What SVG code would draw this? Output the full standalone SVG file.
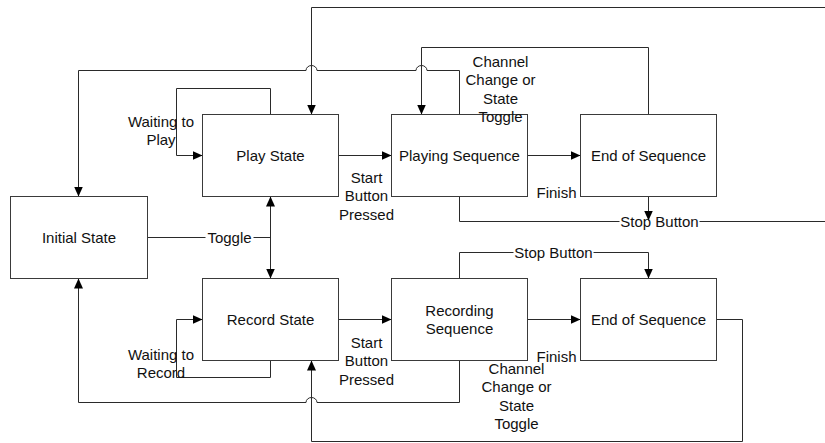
<svg xmlns="http://www.w3.org/2000/svg" width="825" height="443" viewBox="0 0 825 443">
<style>
.box{fill:#fff;stroke:#3a3a3a;stroke-width:1}
.c{fill:none;stroke:#2a2a2a;stroke-width:1}
text{font-family:"Liberation Sans",Arial,sans-serif;font-size:15px;fill:#111;text-anchor:middle}
</style>
<defs>
<marker id="a" viewBox="0 0 10 10" refX="10" refY="5" markerWidth="10" markerHeight="10" orient="auto-start-reverse" markerUnits="userSpaceOnUse">
<path d="M0,0.5 L10,5 L0,9.5 z" fill="#000"/>
</marker>
</defs>
<rect width="825" height="443" fill="#fff"/>
<g transform="translate(0.5,0.5)">
<g id="connectors">
<path class="c" d="M459,196 L459,221 L619,221 M699,221 L830,221 L830,7 L311,7 L311,114" marker-end="url(#a)"/>
<path class="c" d="M648,196 L648,220" marker-end="url(#a)"/>
<path class="c" d="M459,114 L459,70 L426.5,70 A5.5,5 0 0 0 415.5,70 L316.5,70 A5.5,5 0 0 0 305.5,70 L78,70 L78,196" marker-end="url(#a)"/>
<path class="c" d="M648,114 L648,47 L421,47 L421,114" marker-end="url(#a)"/>
<path class="c" d="M270,114 L270,88 L176,88 L176,155 L202,155" marker-end="url(#a)"/>
<path class="c" d="M338,155 L391,155" marker-end="url(#a)"/>
<path class="c" d="M527,155 L580,155" marker-end="url(#a)"/>
<path class="c" d="M147,237 L205,237 M253,237 L270,237"/>
<path class="c" d="M270,196 L270,278" marker-start="url(#a)" marker-end="url(#a)"/>
<path class="c" d="M270,360 L270,377 L176,377 L176,319 L202,319" marker-end="url(#a)"/>
<path class="c" d="M338,319 L391,319" marker-end="url(#a)"/>
<path class="c" d="M527,319 L580,319" marker-end="url(#a)"/>
<path class="c" d="M459,278 L459,252 L513,252 M593,252 L648,252 L648,278" marker-end="url(#a)"/>
<path class="c" d="M716,319 L742,319 L742,441 L311,441 L311,360" marker-end="url(#a)"/>
<path class="c" d="M459,360 L459,402 L316.5,402 A5.5,5 0 0 0 305.5,402 L78,402 L78,278" marker-end="url(#a)"/>
</g>
<g id="initial-state"><rect class="box" x="10" y="196" width="137" height="82"/><text x="78.5" y="242">Initial State</text></g>
<g id="play-state"><rect class="box" x="202" y="114" width="136" height="82"/><text x="270" y="160">Play State</text></g>
<g id="record-state"><rect class="box" x="202" y="278" width="136" height="82"/><text x="270" y="324">Record State</text></g>
<g id="playing-sequence"><rect class="box" x="391" y="114" width="136" height="82"/><text x="459" y="160">Playing Sequence</text></g>
<g id="recording-sequence"><rect class="box" x="391" y="278" width="136" height="82"/><text x="459" y="315">Recording</text><text x="459" y="333">Sequence</text></g>
<g id="end-of-sequence-play"><rect class="box" x="580" y="114" width="136" height="82"/><text x="648" y="160">End of Sequence</text></g>
<g id="end-of-sequence-record"><rect class="box" x="580" y="278" width="136" height="82"/><text x="648" y="324">End of Sequence</text></g>
<g id="labels">
<text x="160.5" y="126">Waiting to</text><text x="160.5" y="144">Play</text>
<text x="366" y="182">Start</text><text x="366" y="200.5">Button</text><text x="366" y="219">Pressed</text>
<text x="556" y="197">Finish</text>
<text x="500" y="66">Channel</text><text x="500" y="84.5">Change or</text><text x="500" y="103">State</text><text x="500" y="121.5">Toggle</text>
<text x="659" y="226">Stop Button</text>
<text x="229" y="242">Toggle</text>
<text x="160.5" y="359">Waiting to</text><text x="160.5" y="377">Record</text>
<text x="366" y="347">Start</text><text x="366" y="365.5">Button</text><text x="366" y="384">Pressed</text>
<text x="556" y="361">Finish</text>
<text x="553" y="257">Stop Button</text>
<text x="516" y="373">Channel</text><text x="516" y="391.5">Change or</text><text x="516" y="410">State</text><text x="516" y="428.5">Toggle</text>
</g>
</g>
</svg>
